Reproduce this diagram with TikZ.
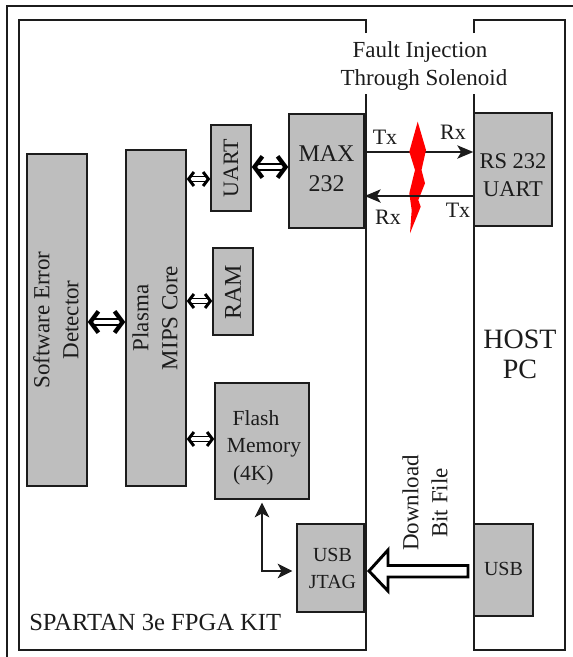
\documentclass[tikz,border=0pt]{standalone}
\usepackage{fontspec}
\setmainfont{Liberation Serif}
\usetikzlibrary{arrows.meta}
\definecolor{ink}{HTML}{1C1C1C}
\definecolor{blockgrey}{HTML}{BEBEBE}
\newcommand{\fpx}[2]{\pgfmathsetmacro\fpxa{#1*0.75}\pgfmathsetmacro\fpxb{#2*0.75}\fontsize{\fpxa}{\fpxb}\selectfont}
\tikzset{
  block/.style={draw=ink,line width=1.1pt,fill=blockgrey,inner sep=0pt,align=center,text=ink},
  lbl/.style={inner sep=0pt,align=center,text=ink},
  frameline/.style={draw=ink,line width=1.1pt},
  bigbus/.style={draw=black,line width=1.7pt,double=white,double distance=2.6pt,{Straight Barb[length=6pt,width=16pt,line width=3.2pt]}-{Straight Barb[length=6pt,width=16pt,line width=3.2pt]}},
  smallbus/.style={draw=black,line width=1.2pt,double=white,double distance=2.8pt,{Straight Barb[length=4pt,width=10.5pt,line width=2.2pt]}-{Straight Barb[length=4pt,width=10.5pt,line width=2.2pt]}},
  sigline/.style={draw=ink,line width=1pt,-{Stealth[length=12pt,width=10pt,inset=3pt]}},
  thinarrow/.style={draw=ink,line width=1pt,{Stealth[length=11pt,width=11pt,inset=3pt]}-{Stealth[length=11pt,width=11pt,inset=3pt]}}
}
\newcommand{\blockat}[7]{% name, x0,y0,x1,y1, font, text
  \node[block,font=#6,minimum width=(#4-#2)*0.75pt,minimum height=(#5-#3)*0.75pt] (#1) at ({(#2+#4)/2},{(#3+#5)/2}) {#7};}
\begin{document}
\begin{tikzpicture}[x=0.75pt,y=-0.75pt]
\useasboundingbox (0,0) rectangle (573,657);
\fill[white] (0,0) rectangle (573,657);
% frames
\draw[frameline] (7,657) -- (7,6) -- (573,6);
\draw[frameline] (366,33) -- (366,20) -- (19,20) -- (19,650) -- (366,650) -- (366,94);
\draw[frameline] (474,33) -- (474,20) -- (565,20) -- (565,650) -- (474,650) -- (474,94);
% blocks
\blockat{sw}{27}{154}{87}{486}{}{}
\blockat{pl}{126}{150}{186}{486}{}{}
\blockat{ua}{211}{125}{251}{211}{}{}
\blockat{ra}{213}{248}{253}{335}{}{}
\blockat{fl}{215}{383}{309}{499}{\fpx{21.5}{27.5}}{\rule{0pt}{21pt}\hspace*{-9pt}Flash\\\hspace*{3pt}Memory\\\hspace*{-13pt}(4K)}
\blockat{mx}{289}{114}{364}{228}{\fpx{24}{30}}{MAX\\232\rule[-3pt]{0pt}{0pt}}
\blockat{rs}{474}{113}{552}{226}{\fpx{22.5}{28}}{\rule{0pt}{19pt}RS 232\\UART}
\blockat{jt}{297}{524}{364}{612}{\fpx{20}{27}}{\hspace*{3pt}USB\\\hspace*{3pt}JTAG}
\blockat{us}{474}{524}{533}{616}{\fpx{20}{24}}{\raisebox{2pt}{USB}}
% rotated labels
\node[lbl,rotate=90,font=\fpx{23}{29}] (swt) at (56,320) {Software Error\\Detector};
\node[lbl,rotate=90,font=\fpx{23}{29}] (plt) at (155,318) {Plasma\\MIPS Core};
\node[lbl,rotate=90,font=\fpx{22}{26}] (uat) at (231,168) {UART};
\node[lbl,rotate=90,font=\fpx{24}{26}] (rat) at (233,292) {RAM};
\node[lbl,rotate=90,font=\fpx{23}{29}] (dlt) at (425,503) {Download\\Bit File};
% free labels
\node[lbl,font=\fpx{23}{28.5}] (fit) at (420,66) {Fault Injection\\\hspace*{6pt}Through Solenoid};
\node[lbl,font=\fpx{28}{30}] (host) at (520,354) {HOST\\PC};
\node[lbl,anchor=west,font=\fpx{24.6}{28}] (kit) at (29,622) {SPARTAN 3e FPGA KIT};
\node[lbl,font=\fpx{22}{26}] (tx1) at (385,137) {Tx};
\node[lbl,font=\fpx{22}{26}] (rx1) at (453,132) {Rx};
\node[lbl,font=\fpx{22}{26}] (rx2) at (388,217) {Rx};
\node[lbl,font=\fpx{22}{26}] (tx2) at (458,210) {Tx};
% buses
\draw[bigbus] (sw.east |- 0,322) -- (pl.west |- 0,322);
\draw[bigbus] (ua.east |- 0,167) -- (mx.west |- 0,167);
\draw[smallbus] (pl.east |- 0,179) -- (ua.west |- 0,179);
\draw[smallbus] (pl.east |- 0,301) -- (ra.west |- 0,301);
\draw[smallbus] (pl.east |- 0,439) -- (fl.west |- 0,439);
% serial line under the bolt
\draw[sigline] (mx.east |- 0,152) -- (rs.west |- 0,152);
% fault bolt
\fill[red] (417.7,121.7) -- (426,150) -- (421.5,170) -- (425,183.3) -- (418.3,200) -- (420.7,206.7) -- (410,233.3) -- (411.7,210) -- (409.3,193.3) -- (415,170) -- (409.3,151.7) -- cycle;
% serial line over the bolt
\draw[sigline] (rs.west |- 0,196) -- (mx.east |- 0,196);
% JTAG to flash
\coordinate (elbow) at (262,571);
\draw[thinarrow] (fl.south -| elbow) ++(0,3) -- (elbow) -- ([xshift=-3pt]jt.west |- elbow);
% download arrow
\draw[draw=black,fill=white,line width=2.2pt,miter limit=4] (388,550) -- (369,571) -- (388,591) -- (388,577) -- (468,577) -- (468,565.5) -- (388,565.5) -- cycle;
\end{tikzpicture}
\end{document}
